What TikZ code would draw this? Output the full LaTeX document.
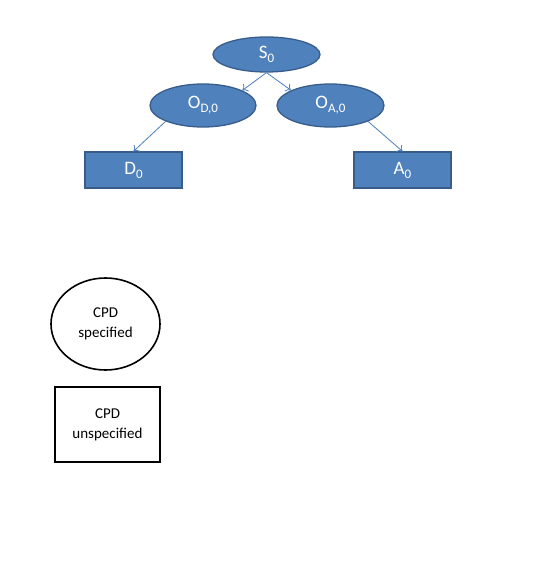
\documentclass[tikz,border=0pt]{standalone}
\usepackage{fontspec}
\setmainfont{Carlito}
\usepackage{tikz}
\usetikzlibrary{arrows.meta, positioning, shapes.geometric}
\definecolor{nodefill}{HTML}{4F81BD}
\definecolor{nodeline}{HTML}{385D8A}
\definecolor{linkcol}{HTML}{4A7EBB}
\newcommand{\lowsub}[1]{\raisebox{-0.45ex}{\fontsize{13}{13}\selectfont #1}}
\tikzstyle{ovalvar}=[ellipse, draw=nodeline, fill=nodefill, line width=1.3pt, text=white, inner sep=0pt, font=\fontsize{19}{21}\selectfont]
\tikzstyle{boxvar}=[rectangle, draw=nodeline, fill=nodefill, line width=1.3pt, text=white, inner sep=0pt, minimum width=97pt, minimum height=36pt, font=\fontsize{19}{21}\selectfont]
\tikzstyle{link}=[draw=linkcol, line width=0.8pt, -{To[length=5pt, width=9pt]}]
\tikzstyle{keyoval}=[ellipse, draw=black, line width=1.6pt, inner sep=0pt, minimum width=109pt, minimum height=92pt, align=center, font=\fontsize{15}{20}\selectfont]
\tikzstyle{keybox}=[rectangle, draw=black, line width=1.6pt, inner sep=0pt, minimum width=105pt, minimum height=75pt, align=center, font=\fontsize{15}{20}\selectfont]

\begin{document}
\begin{tikzpicture}[x=1pt, y=-1pt]
    \useasboundingbox (0,0) rectangle (538,577);

    % Top variable:
    \node[ovalvar, minimum width=107pt, minimum height=35pt] (s0) at (266.5,54.5) {S\lowsub{0}};

    % Observations:
    \node[ovalvar, minimum width=106pt, minimum height=43pt] (od0) [below of=s0, node distance=51pt, xshift=-63.5pt] {O\lowsub{D,0}};
    \node[ovalvar, minimum width=107pt, minimum height=43pt] (oa0) [below of=s0, node distance=51pt, xshift=64pt] {O\lowsub{A,0}};

    % Decision and action:
    \node[boxvar] (d0) [below of=od0, node distance=64.5pt, xshift=-69.5pt] {D\lowsub{0}};
    \node[boxvar] (a0) [below of=oa0, node distance=64.5pt, xshift=72pt] {A\lowsub{0}};

    \draw[link] (s0.south) -- (od0.21);
    \draw[link] (s0.south) -- (oa0.159);
    \draw[link] (od0.203) -- (d0.north);
    \draw[link] (oa0.337) -- (a0.north);

    % Legend:
    \node[keyoval] (spec) at (105.5,324) {CPD\\specified};
    \node[keybox] (unspec) [below of=spec, node distance=100.5pt, xshift=2pt] {CPD\\unspecified};
\end{tikzpicture}
\end{document}
